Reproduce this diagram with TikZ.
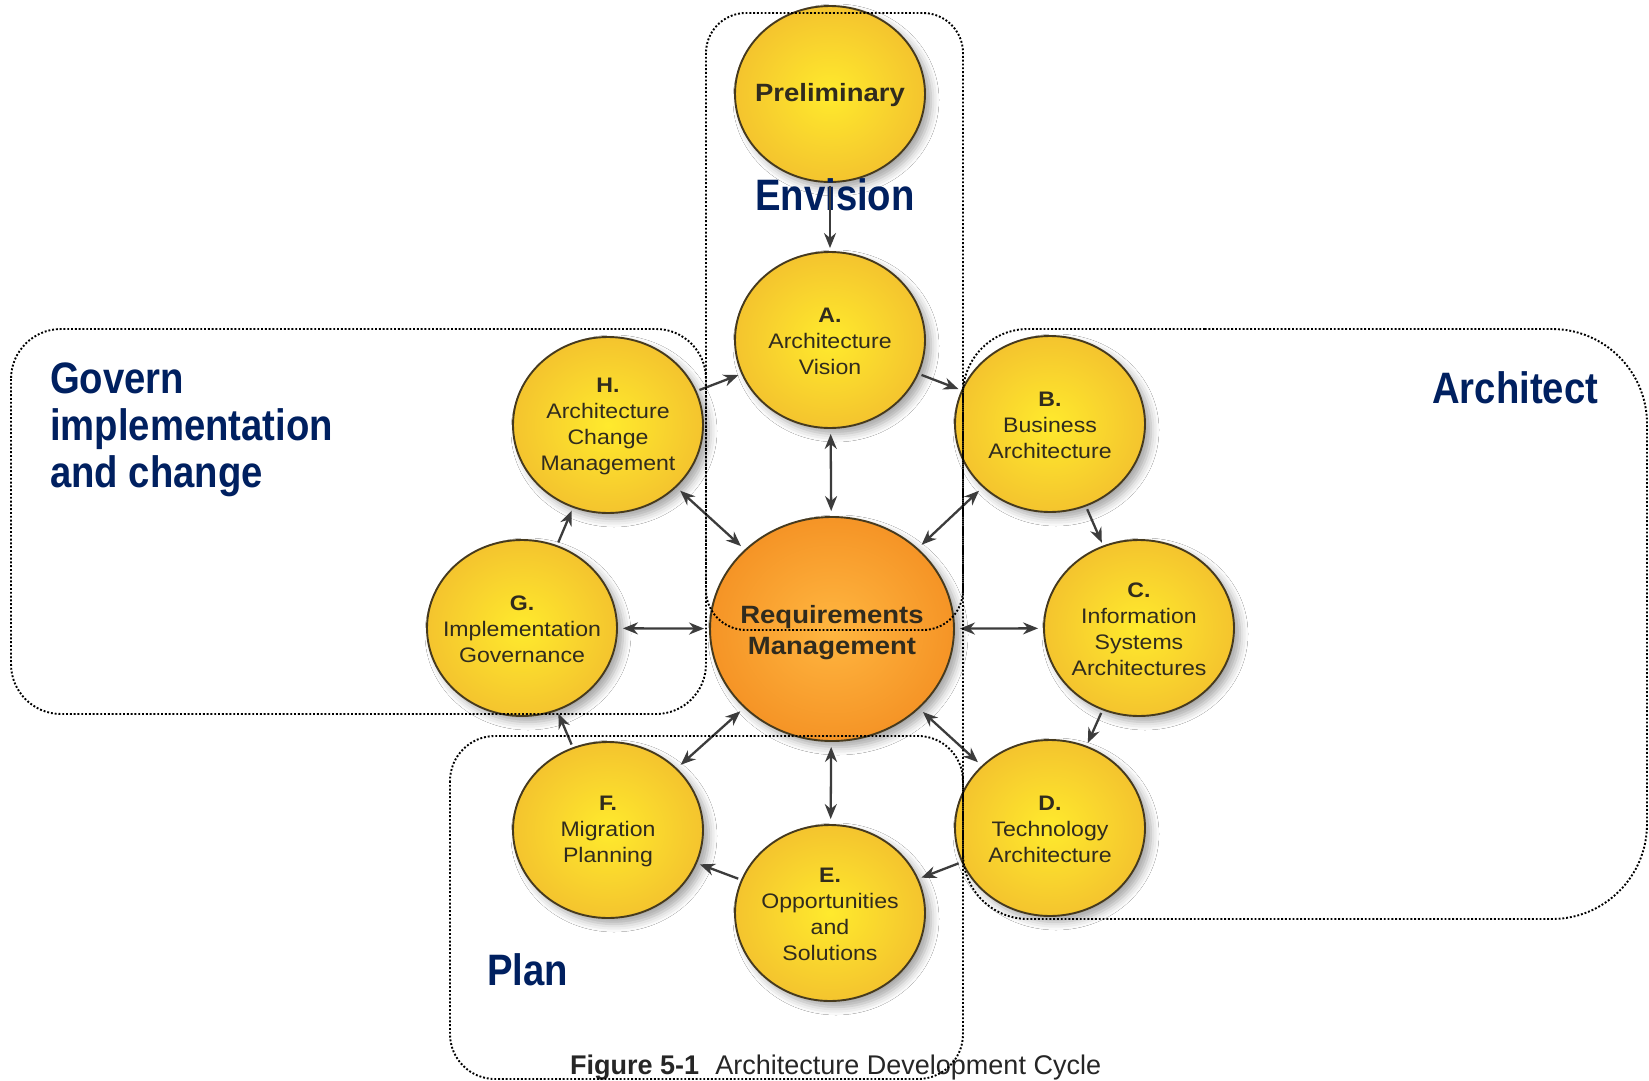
\documentclass[tikz,border=0pt]{standalone}
\usepackage{fontspec}
\setmainfont{Liberation Sans}
\newfontfamily\circfont[FakeStretch=1.1]{Liberation Sans}
\newfontfamily\lblfont[FakeStretch=0.87]{Liberation Sans}
\usetikzlibrary{shapes.geometric,arrows.meta,shadows.blur}
\definecolor{navy}{RGB}{0,32,96}
\definecolor{ylin}{RGB}{255,234,45}
\definecolor{ylout}{RGB}{244,196,46}
\definecolor{orin}{RGB}{255,182,64}
\definecolor{orout}{RGB}{245,148,38}
\definecolor{edgec}{RGB}{70,58,30}
\definecolor{arrc}{RGB}{60,60,60}
\definecolor{txtc}{RGB}{48,43,30}
\begin{document}
\begin{tikzpicture}[x=1pt,y=-1pt,
  phase/.style={ellipse, draw=edgec, line width=1.9pt, minimum width=190pt, minimum height=176pt,
    inner sep=0pt, inner color=ylin, outer color=ylout,
    blur shadow={shadow xshift=6pt, shadow yshift=-6pt, shadow blur radius=8pt, shadow opacity=35}},
  reqnode/.style={phase, minimum width=244pt, minimum height=224pt, inner color=orin, outer color=orout},
  ptext/.style={inner sep=0pt, align=center, text=txtc, yshift=-1pt, font=\circfont\fontsize{21}{26}\selectfont},
  btext/.style={inner sep=0pt, align=center, text=txtc, font=\circfont\bfseries\fontsize{25}{31}\selectfont},
  arr/.style={draw=arrc, line width=2.3pt, -{Stealth[length=15pt,width=12pt]}, shorten >=3pt, shorten <=3pt},
  darr/.style={draw=arrc, line width=2.3pt, {Stealth[length=15pt,width=12pt]}-{Stealth[length=15pt,width=12pt]}, shorten >=5pt, shorten <=5pt},
  dotbox/.style={draw=black, line width=1.9pt, dash pattern=on 1.9pt off 1.9pt},
  lbl/.style={text=navy, font=\lblfont\bfseries\fontsize{44}{47}\selectfont, inner sep=0pt, anchor=base west}
]
\useasboundingbox (0,0) rectangle (1649,1081);
\fill[white] (0,0) rectangle (1649,1081);

% phases
\node[phase, label={[btext, yshift=-1pt]center:Preliminary}] (P) at (830,94) {};
\node[phase, label={[ptext]center:{\bfseries A.}\\Architecture\\Vision}] (A) at (830,340) {};
\node[phase, label={[ptext]center:{\bfseries B.}\\Business\\Architecture}] (B) at (1050,424) {};
\node[phase, label={[ptext]center:{\bfseries C.}\\Information\\Systems\\Architectures}] (C) at (1139,628) {};
\node[phase, label={[ptext]center:{\bfseries D.}\\Technology\\Architecture}] (D) at (1050,828) {};
\node[phase, label={[ptext]center:{\bfseries E.}\\Opportunities\\and\\Solutions}] (E) at (830,913) {};
\node[phase, label={[ptext]center:{\bfseries F.}\\Migration\\Planning}] (F) at (608,830) {};
\node[phase, label={[ptext]center:{\bfseries G.}\\Implementation\\Governance}] (G) at (522,628) {};
\node[phase, label={[ptext]center:{\bfseries H.}\\Architecture\\Change\\Management}] (H) at (608,425) {};
\node[reqnode, label={[btext, yshift=-4pt]center:Requirements\\Management}] (R) at (832,629) {};

% labels
\node[lbl] (gov1) at (50,393) {Govern};
\node[lbl] (gov2) at (50,440) {implementation};
\node[lbl] (gov3) at (50,487) {and change};
\node[lbl] (envl) at (755,210) {Envision};
\node[lbl] (arcl) at (1432,403) {Architect};
\node[lbl] (plnl) at (487,985) {Plan};
\node[inner sep=0pt, anchor=base west, text=black!85, font=\fontsize{27}{30}\selectfont] (cap) at (570,1074)
  {\textbf{Figure 5-1}\hspace{0.6em}Architecture Development Cycle};

% cycle arrows
\draw[arr] (P) -- (A);
\draw[arr] (A) -- (B);
\draw[arr] (B) -- (C);
\draw[arr] (C) -- (D);
\draw[arr] (D) -- (E);
\draw[arr] (E) -- (F);
\draw[arr] (F) -- (G);
\draw[arr] (G) -- (H);
\draw[arr] (H) -- (A);
% requirements arrows
\foreach \n in {A,B,C,D,E,F,G,H} \draw[darr] (R) -- (\n);

% dotted grouping boxes
\draw[dotbox, rounded corners=40] (706,13) rectangle (963,630);
\draw[dotbox, rounded corners=50] (11,329) rectangle (706,714);
\draw[dotbox] (1300,329) [rounded corners=65] -- (963,329) -- (963,919) -- (1300,919)
  [rounded corners=95] -- (1647,919) -- (1647,329) -- cycle;
\draw[dotbox, rounded corners=45] (450,736) rectangle (963,1079);
\end{tikzpicture}
\end{document}
